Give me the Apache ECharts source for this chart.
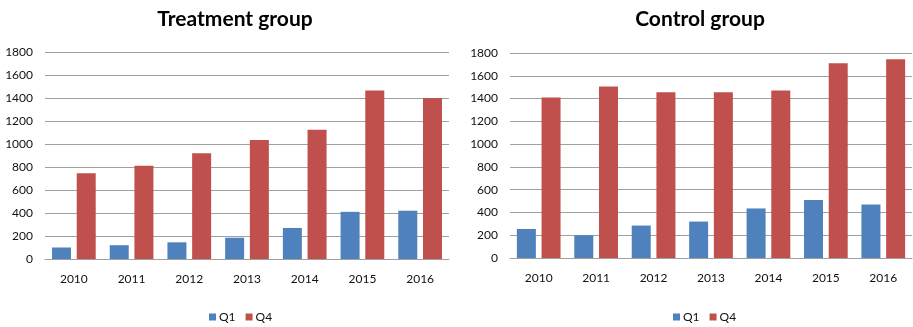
<!DOCTYPE html>
<html><head><meta charset="utf-8">
<script src="https://cdn.jsdelivr.net/npm/echarts@6/dist/echarts.min.js"></script>
<style>html,body{margin:0;padding:0;background:#fff}#c{width:913px;height:327px}</style>
</head><body><div id="c"></div>
<script>
const years = ['2010','2011','2012','2013','2014','2015','2016'];
const treatmentQ1 = [100, 120, 145, 185, 270, 410, 420];
const treatmentQ4 = [745, 810, 920, 1035, 1125, 1465, 1400];
const controlQ1 = [255, 200, 285, 320, 435, 510, 470];
const controlQ4 = [1410, 1505, 1455, 1455, 1470, 1710, 1745];
const titles = ['Treatment group', 'Control group'];
const seriesNames = ['Q1', 'Q4'];

const FONT = 'Lato';
const blue = '#4F81BD', red = '#C0504D';
const grids = [
  {left: 45, top: 52, width: 404, height: 207},
  {left: 510, top: 53, width: 402, height: 205}
];
function yAxis(i){return {type:'value', gridIndex:i, min:0, max:1800, interval:200,
  axisLabel:{color:'#111', fontFamily:FONT, fontSize:12, margin:12, formatter:v=>String(v)},
  splitLine:{lineStyle:{color:'#a0a0a0', width:1}}, axisLine:{show:false}, axisTick:{show:false}};}
function xAxis(i){return {type:'category', gridIndex:i, data:years,
  axisLabel:{color:'#111', fontFamily:FONT, fontSize:12, margin:14},
  axisLine:{lineStyle:{color:'#a0a0a0'}}, axisTick:{show:false}};}
function bar(name, data, i, color){return {type:'bar', name, data, xAxisIndex:i, yAxisIndex:i,
  barWidth:19, barGap:'30%', itemStyle:{color}};}
const chart = echarts.init(document.getElementById('c'), null, {renderer:'canvas'});
chart.setOption({
  animation:false,
  color:[blue, red],
  title:[
    {text:titles[0], left:230, top:4, textAlign:'center', textStyle:{fontFamily:FONT, fontWeight:'bold', fontSize:21, color:'#000'}},
    {text:titles[1], left:695, top:4, textAlign:'center', textStyle:{fontFamily:FONT, fontWeight:'bold', fontSize:21, color:'#000'}}
  ],
  legend:[
    {data:seriesNames, left:204, top:306, itemWidth:7, itemHeight:7, itemGap:10, icon:'rect', textStyle:{fontFamily:FONT, fontSize:12, color:'#111', padding:[0,0,0,-2]}},
    {data:seriesNames, left:668, top:306, itemWidth:7, itemHeight:7, itemGap:10, icon:'rect', textStyle:{fontFamily:FONT, fontSize:12, color:'#111', padding:[0,0,0,-2]}}
  ],
  grid:grids,
  xAxis:[xAxis(0), xAxis(1)],
  yAxis:[yAxis(0), yAxis(1)],
  series:[
    bar(seriesNames[0], treatmentQ1, 0, blue),
    bar(seriesNames[1], treatmentQ4, 0, red),
    bar(seriesNames[0], controlQ1, 1, blue),
    bar(seriesNames[1], controlQ4, 1, red)
  ]
});
</script></body></html>
